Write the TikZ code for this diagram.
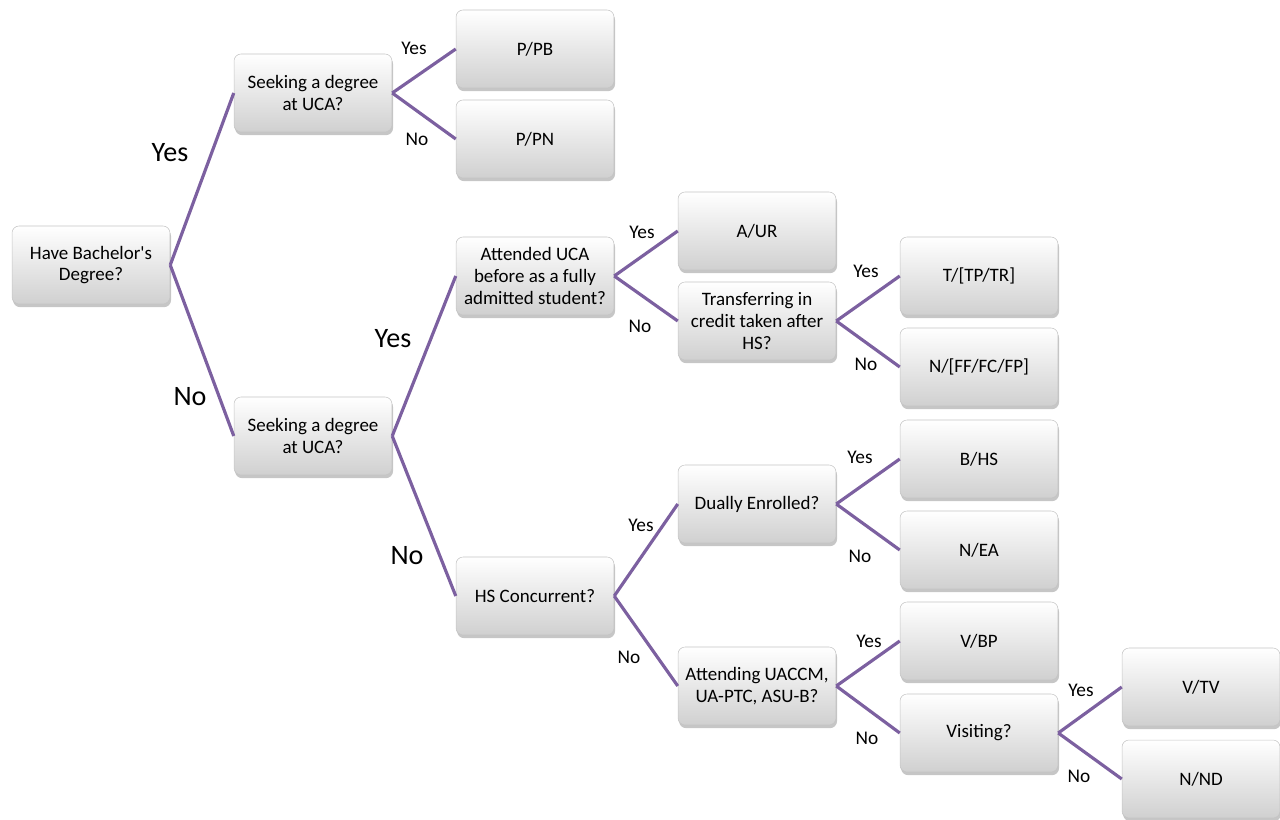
\documentclass[tikz,border=0pt]{standalone}
\usepackage{fontspec}
\setmainfont{Carlito}
\newfontfamily\aposfont{Carlito}
\usetikzlibrary{positioning,shadows}
\definecolor{ucPurple}{RGB}{124,96,160}
\definecolor{ucShade}{RGB}{208,208,208}
\definecolor{ucEdge}{RGB}{196,196,196}
\tikzset{
  decbox/.style={rectangle, rounded corners=4pt, top color=white, bottom color=ucShade,
    draw=ucEdge, line width=0.3pt, minimum width=3.16cm, minimum height=1.56cm,
    inner sep=2pt, align=center, font=\fontsize{10.8}{12.4}\selectfont,
    drop shadow={shadow xshift=0.6pt, shadow yshift=-1.8pt, opacity=0.45}},
  branch/.style={ucPurple, line width=1.8pt},
  lbl/.style={font=\fontsize{11}{13}\selectfont},
  biglbl/.style={font=\fontsize{16}{19}\selectfont}
}

\begin{document}
\begin{tikzpicture}[x=0.02cm, y=-0.02cm]
  \useasboundingbox (0,0) rectangle (1280,820);

  % Root question
  \node[decbox] (root) at (91,265) {Have Bachelor{\aposfont'}s\\Degree?};

  % Bachelor's branch
  \node[decbox] (seekA) at (313,93) {Seeking a degree\\at UCA?};
  \node[decbox] (pb) at (535,49) {P/PB};
  \node[decbox] (pn) at (535,139) {P/PN};

  % No bachelor's branch
  \node[decbox] (seekB) at (313,436) {Seeking a degree\\at UCA?};
  \node[decbox] (att) at (535,276) {Attended UCA\\before as a fully\\admitted student?};
  \node[decbox] (aur) at (757,231) {A/UR};
  \node[decbox] (trans) at (757,321) {Transferring in\\credit taken after\\HS?};
  \node[decbox] (ttp) at (979,276) {T/[TP/TR]};
  \node[decbox] (nff) at (979,367) {N/[FF/FC/FP]};

  % Non-degree seekers
  \node[decbox] (hsc) at (535,596) {HS Concurrent?};
  \node[decbox] (dual) at (757,504) {Dually Enrolled?};
  \node[decbox] (bhs) at (979,459) {B/HS};
  \node[decbox] (nea) at (979,550) {N/EA};
  \node[decbox] (attg) at (757,686) {Attending UACCM,\\UA-PTC, ASU-B?};
  \node[decbox] (vbp) at (979,641) {V/BP};
  \node[decbox] (vis) at (979,733) {Visiting?};
  \node[decbox] (vtv) at (1201,687) {V/TV};
  \node[decbox] (nnd) at (1201,779) {N/ND};

  % Branches
  \draw[branch] (root.east) -- (seekA.west);
  \draw[branch] (root.east) -- (seekB.west);
  \draw[branch] (seekA.east) -- (pb.west);
  \draw[branch] (seekA.east) -- (pn.west);
  \draw[branch] (seekB.east) -- (att.west);
  \draw[branch] (seekB.east) -- (hsc.west);
  \draw[branch] (att.east) -- (aur.west);
  \draw[branch] (att.east) -- (trans.west);
  \draw[branch] (trans.east) -- (ttp.west);
  \draw[branch] (trans.east) -- (nff.west);
  \draw[branch] (hsc.east) -- (dual.west);
  \draw[branch] (hsc.east) -- (attg.west);
  \draw[branch] (dual.east) -- (bhs.west);
  \draw[branch] (dual.east) -- (nea.west);
  \draw[branch] (attg.east) -- (vbp.west);
  \draw[branch] (attg.east) -- (vis.west);
  \draw[branch] (vis.east) -- (vtv.west);
  \draw[branch] (vis.east) -- (nnd.west);

  % Answers
  \node[biglbl] (yA) at (170,153) {Yes};
  \node[biglbl] (nA) at (190,397) {No};
  \node[biglbl] (yB) at (393,339) {Yes};
  \node[biglbl] (nB) at (407,556) {No};
  \node[lbl] (yC) at (414,48) {Yes};
  \node[lbl] (nC) at (417,139) {No};
  \node[lbl] (yD) at (642,232) {Yes};
  \node[lbl] (nD) at (640,326) {No};
  \node[lbl] (yE) at (866,271) {Yes};
  \node[lbl] (nE) at (866,364) {No};
  \node[lbl] (yF) at (641,525) {Yes};
  \node[lbl] (nF) at (629,657) {No};
  \node[lbl] (yG) at (860,457) {Yes};
  \node[lbl] (nG) at (860,556) {No};
  \node[lbl] (yH) at (869,641) {Yes};
  \node[lbl] (nH) at (867,738) {No};
  \node[lbl] (yI) at (1081,690) {Yes};
  \node[lbl] (nI) at (1079,776) {No};
\end{tikzpicture}
\end{document}
